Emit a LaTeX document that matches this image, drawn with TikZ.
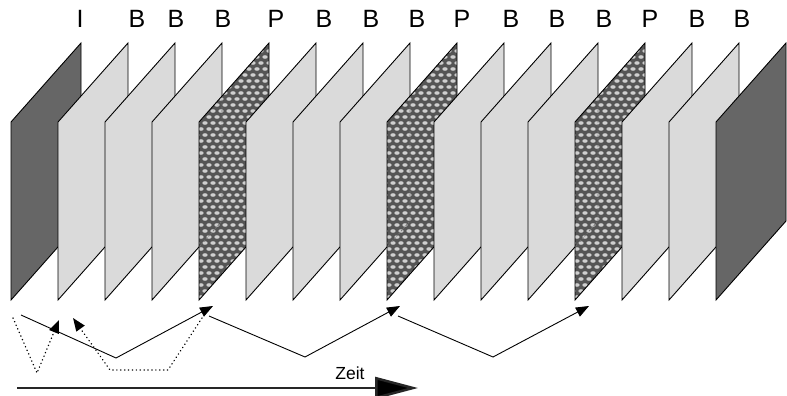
\documentclass[tikz,border=0pt]{standalone}
\usepackage{fontspec}
\setmainfont{Liberation Sans}
\usetikzlibrary{arrows.meta}
\definecolor{lightfr}{HTML}{DADADA}
\definecolor{darkfr}{HTML}{666666}
\definecolor{pbase}{HTML}{555555}
\definecolor{pblob}{HTML}{CFCFCF}
\tikzset{
  framebox/.style={draw=black, line width=0.9pt, line join=miter},
  lightframe/.style={framebox, fill=lightfr},
  darkframe/.style={framebox, fill=darkfr},
  hiddenedge/.style={draw=black!55, line width=0.8pt, dash pattern=on 2pt off 1.5pt},
  typelabel/.style={font=\fontsize{25}{30}\selectfont, inner sep=0pt, anchor=center},
  zeitlabel/.style={font=\fontsize{17.5}{20}\selectfont, inner sep=0pt, anchor=center},
  predline/.style={line width=0.9pt, line join=miter},
  predarrow/.style={predline, -{Triangle[length=13pt,width=10pt]}},
  backarrow/.style={line width=1.4pt, line cap=round, dash pattern=on 0.3pt off 3.6pt, -{Triangle[length=13pt,width=10pt,line cap=butt]}},
  timearrow/.style={line width=2.5pt, draw=black!85, -{Triangle[length=43pt,width=22pt,fill=black]}}
}
\begin{document}
\begin{tikzpicture}[x=1pt,y=-1pt]
\useasboundingbox (0,0) rectangle (787,396);
% frames
\foreach \i in {0,...,15}{
  \pgfmathtruncatemacro\fx{11+47*\i}
  \pgfmathtruncatemacro\fxr{81+47*\i}
  \pgfmathtruncatemacro\pm{mod(\i,4)}
  \coordinate (f\i bl) at (\fx,300);
  \coordinate (f\i tl) at (\fx,122);
  \coordinate (f\i tr) at (\fxr,43);
  \coordinate (f\i br) at (\fxr,221);
  \ifnum\i=0
    \draw[darkframe] (f\i bl) -- (f\i tl) -- (f\i tr) -- (f\i br) -- cycle;
  \else\ifnum\i=15
    \draw[darkframe] (f\i bl) -- (f\i tl) -- (f\i tr) -- (f\i br) -- cycle;
  \else\ifnum\pm=0
    \fill[pbase] (f\i bl) -- (f\i tl) -- (f\i tr) -- (f\i br) -- cycle;
    \begin{scope}
      \clip (f\i bl) -- (f\i tl) -- (f\i tr) -- (f\i br) -- cycle;
      \foreach \r in {0,...,43}{
        \foreach \c in {0,...,10}{
          \fill[pblob] ({\fx-6+8*\c+4*mod(\r,2)},{45+6*\r}) ellipse (2.7 and 1.8);
        }
      }
      \draw[hiddenedge] ({\fx+23},96) -- ({\fx+23},221) -- (\fx,247);
    \end{scope}
    \draw[framebox] (f\i bl) -- (f\i tl) -- (f\i tr) -- (f\i br) -- cycle;
  \else
    \draw[lightframe] (f\i bl) -- (f\i tl) -- (f\i tr) -- (f\i br) -- cycle;
  \fi\fi\fi
}
% labels
\foreach \lx/\lt [count=\k] in {80/I,137/B,176/B,223/B,276/P,324/B,371/B,417/B,462/P,511/B,557/B,604/B,650/P,697/B,742/B}{
  \node[typelabel] (lab\k) at (\lx,19) {\lt};
}
% prediction arrows (solid)
\coordinate (a1s) at (21,315);
\coordinate (a1v) at (116,358);
\coordinate (a1e) at (213,306);
\coordinate (a2s) at (209,316);
\coordinate (a2v) at (305,357);
\coordinate (a2e) at (400,306);
\coordinate (a3s) at (398,316);
\coordinate (a3v) at (493,357);
\coordinate (a3e) at (589,306);
\draw[predarrow] (a1s) -- (a1v) -- (a1e);
\draw[predarrow] (a2s) -- (a2v) -- (a2e);
\draw[predarrow] (a3s) -- (a3v) -- (a3e);
% backward arrows (dotted)
\coordinate (d1s) at (13,318);
\coordinate (d1v) at (37,373);
\coordinate (d1e) at (59,320);
\coordinate (d2s) at (202,318);
\coordinate (d2v) at (168,370);
\coordinate (d2w) at (110,370);
\coordinate (d2e) at (73,318);
\draw[backarrow] (d1s) -- (d1v) -- (d1e);
\draw[backarrow] (d2s) -- (d2v) -- (d2w) -- (d2e);
% time axis
\coordinate (t0) at (17,388);
\coordinate (t1) at (418,388);
\draw[timearrow] (t0) -- (t1);
\node[zeitlabel] (zeit) at (350,373) {Zeit};
\end{tikzpicture}
\end{document}
